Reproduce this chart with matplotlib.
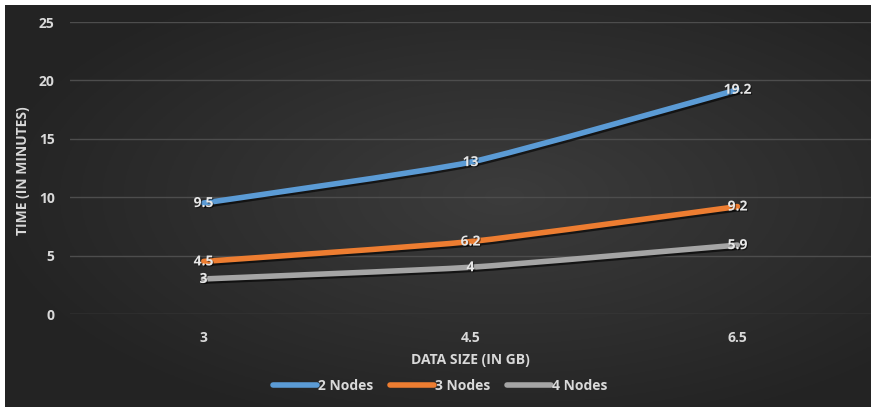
import numpy as np
import matplotlib
matplotlib.use("Agg")
import matplotlib.pyplot as plt
from matplotlib.path import Path
from matplotlib.patches import PathPatch
import matplotlib.patheffects as pe

plt.rcParams['font.family'] = ['Open Sans', 'DejaVu Sans']

categories = ["3", "4.5", "6.5"]
series_names = ["2 Nodes", "3 Nodes", "4 Nodes"]
nodes2 = [9.5, 13, 19.2]
nodes3 = [4.5, 6.2, 9.2]
nodes4 = [3, 4, 5.9]
series_values = [nodes2, nodes3, nodes4]
colors = ["#5B9BD5", "#ED7D31", "#A5A5A5"]
y_ticks = [0, 5, 10, 15, 20, 25]

W, H = 871, 411
fig = plt.figure(figsize=(W / 100, H / 100), dpi=100, facecolor="white")

# dark radial gradient backdrop inside a thin white frame
bg = fig.add_axes([5 / W, 4 / H, 1 - 5 / W, 1 - 9 / H])
bg.set_axis_off()
yy, xx = np.mgrid[0:200, 0:400]
cx, cy = 230, 95
r = np.sqrt(((xx - cx) / 400) ** 2 + ((yy - cy) / 200) ** 2)
shade = np.clip(0.235 - 0.16 * r, 0.14, 0.25)
bg.imshow(np.dstack([shade, shade, shade]), aspect="auto", extent=[0, 1, 0, 1])

TXT = "#d9d9d9"
FS = 10

ax = fig.add_axes([70 / W, (H - 314) / H, (W - 70) / W, 292 / H])
ax.patch.set_alpha(0)
ax.set_xlim(-0.5, 2.5)
ax.set_ylim(0, 25)
for s in ax.spines.values():
    s.set_visible(False)
ax.set_yticks(y_ticks)
ax.set_xticks(range(len(categories)))
ax.set_xticklabels(categories)
ax.tick_params(length=0, labelsize=FS, labelcolor=TXT, pad=0)
ax.tick_params(axis="x", pad=12)
ax.tick_params(axis="y", pad=11)
for lab in ax.get_xticklabels() + ax.get_yticklabels():
    lab.set_fontweight("bold")
ax.grid(axis="y", color="#4d4d4d", linewidth=1)
ax.set_axisbelow(True)

ax.set_xlabel("DATA SIZE (IN GB)", fontsize=FS, fontweight="bold", color=TXT, labelpad=6)
ax.set_ylabel("TIME (IN MINUTES)", fontsize=FS, fontweight="bold", color=TXT)
ax.yaxis.set_label_coords(-0.05, 0.49)

shadow = [pe.SimpleLineShadow(offset=(1.2, -1.5), shadow_color="black", alpha=0.6),
          pe.Normal()]


def smooth_path(xs, ys, k=1 / 12):
    pts = np.column_stack([xs, ys]).astype(float)
    n = len(pts)
    verts = [pts[0]]
    codes = [Path.MOVETO]
    for i in range(n - 1):
        p0 = pts[max(i - 1, 0)]
        p1 = pts[i]
        p2 = pts[i + 1]
        p3 = pts[min(i + 2, n - 1)]
        c1 = p1 + (p2 - p0) * k
        c2 = p2 - (p3 - p1) * k
        verts += [c1, c2, p2]
        codes += [Path.CURVE4] * 3
    return Path(verts, codes)


xs = np.arange(len(categories))
handles = []
for name, vals, col in zip(series_names, series_values, colors):
    patch = PathPatch(smooth_path(xs, vals), fill=False, edgecolor=col,
                      linewidth=4, capstyle="round", joinstyle="round",
                      transform=ax.transData, zorder=3)
    patch.set_path_effects(shadow)
    ax.add_patch(patch)
    h, = ax.plot([], [], color=col, linewidth=4, solid_capstyle="round", label=name)
    handles.append(h)
    for x, v in zip(xs, vals):
        ax.text(x, v, f"{v:g}", ha="center", va="center", fontsize=FS,
                fontweight="bold", color="#e6e6e6", zorder=5,
                path_effects=[pe.withSimplePatchShadow(offset=(0.8, -0.8), shadow_rgbFace="black", alpha=0.5)])

leg = fig.legend(handles=handles, loc="center", bbox_to_anchor=(440 / W, 1 - 386 / H),
                 ncol=3, frameon=False, fontsize=FS, handlelength=3.2,
                 handletextpad=0.05, columnspacing=1.2)
for t in leg.get_texts():
    t.set_color(TXT)
    t.set_fontweight("bold")

fig.savefig("out.png", dpi=100, facecolor="white")
